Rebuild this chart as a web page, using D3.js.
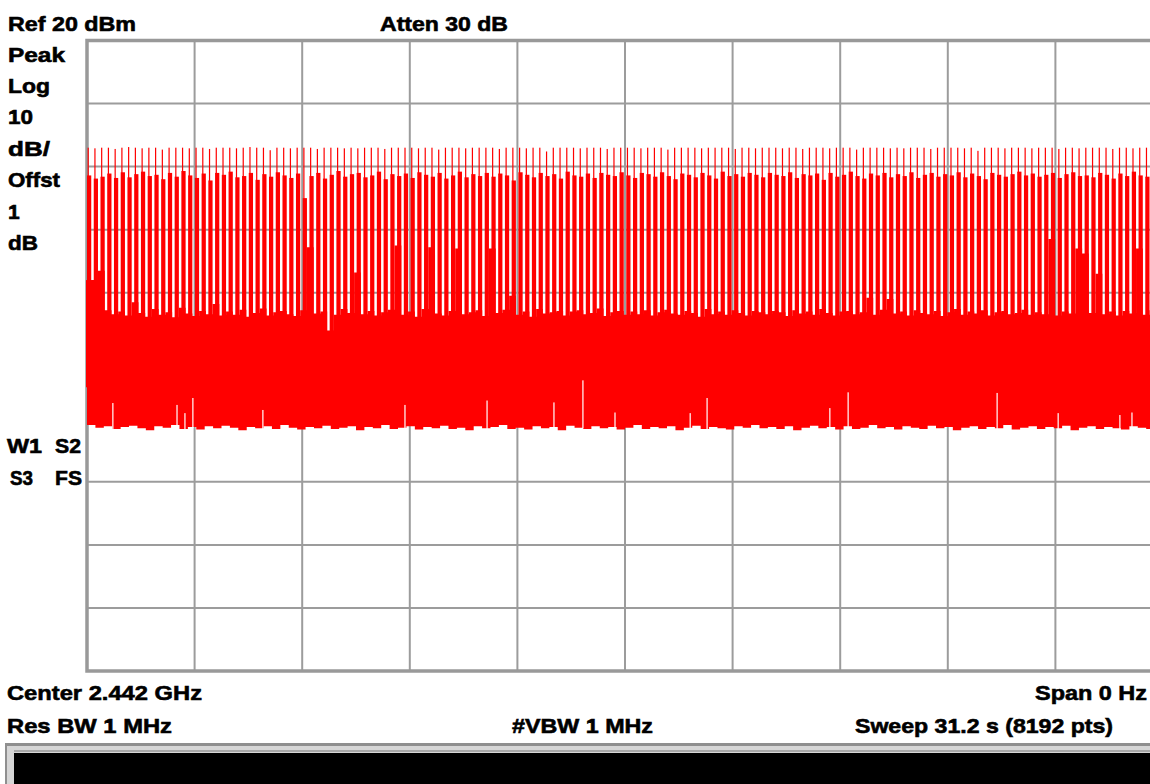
<!DOCTYPE html>
<html>
<head>
<meta charset="utf-8">
<title>Zero span sweep</title>
<script src="https://cdnjs.cloudflare.com/ajax/libs/d3/7.8.5/d3.min.js"></script>
<style>
  body { margin: 0; background: #fff; overflow: hidden; }
  svg text {
    font-family: "Liberation Sans", Arial, sans-serif;
    font-weight: bold;
    font-size: 21px;
    fill: #000;
    stroke: #000;
    stroke-width: 0.6px;
  }
</style>
</head>
<body>
<script>
// analyzer settings
var sweepTime = 31.2;          // s, zero span
var refLevel = 20, dbPerDiv = 10, divs = 10;

// text on the screen
var topLabels = ["Ref 20 dBm", "Atten 30 dB"];
var sideLabels = ["Peak", "Log", "10", "dB/", "Offst", "1", "dB"];
var flagLabels = [["W1", "S2"], ["S3", "FS"]];
var bottomLabels = ["Center 2.442 GHz", "Span 0 Hz", "Res BW 1 MHz", "#VBW 1 MHz", "Sweep 31.2 s (8192 pts)"];

// one entry per burst, left to right (dBm)
var spikeTop = [
  3.0, 2.9, 3.0, 3.0, 2.8, 3.0, 3.1, 3.0, 2.9, 3.0, 3.0, 2.7, 3.0, 3.0, 3.0, 2.9, 3.0, 3.0, 2.8, 3.0,
  3.0, 3.0, 2.9, 3.0, 3.1, 3.0, 3.0, 2.6, 3.0, 3.0, 2.9, 3.0, 3.0, 3.0, 2.8, 3.0, 3.0, 3.0, 2.9, 3.0,
  2.9, 3.0, 3.0, 3.0, 2.8, 3.0, 3.0, 3.0, 3.0, 2.9, 3.0, 3.0, 2.7, 3.0, 3.0, 3.0, 2.9, 3.0, 3.0, 3.0,
  3.0, 2.8, 3.0, 3.0, 3.0, 2.9, 3.0, 3.0, 2.4, 3.0, 3.0, 3.0, 3.0, 2.9, 3.0, 3.0, 3.0, 2.8, 3.0, 3.0,
  3.0, 3.0, 2.9, 3.0, 3.0, 3.0, 2.7, 3.0, 3.0, 3.0, 3.0, 2.9, 3.0, 3.0, 3.0, 3.0, 2.8, 3.0, 3.0, 2.9,
  3.0, 3.0, 3.0, 2.9, 3.0, 3.0, 2.8, 3.0, 3.0, 3.0, 2.9, 3.0, 3.0, 3.0, 2.7, 3.0, 3.0, 3.0, 3.0, 2.9,
  3.0, 2.9, 3.0, 3.0, 3.0, 2.8, 3.0, 3.0, 3.0, 3.0, 2.9, 3.0, 2.5, 3.0, 3.0, 3.0, 2.9, 3.0, 3.0, 3.0,
  2.9, 3.0, 3.0, 3.0, 2.8, 3.0, 3.0, 2.9, 3.0, 3.0, 3.0, 3.0, 2.8, 3.0, 3.0, 2.9, 3.0, 3.0, 3.0, 3.0
];
var blockTop = [
  -1.4, -1.9, -1.6, -1.1, -1.8, -0.9, -1.7, -1.2, -0.8, -1.5, -1.3, -2.0, -1.0, -1.6, -0.7, -1.4, -1.8, -1.1, -2.2, -1.0,
  -1.3, -0.8, -1.7, -1.5, -1.0, -2.1, -1.2, -1.6, -0.9, -1.4, -1.8, -1.1, -5.0, -1.5, -1.0, -1.9, -1.3, -0.7, -1.6, -1.2,
  -1.0, -1.7, -1.4, -0.8, -2.0, -1.2, -1.5, -1.1, -1.8, -0.9, -1.3, -1.6, -1.0, -1.9, -1.4, -0.8, -1.7, -1.2, -1.5, -1.0,
  -1.6, -1.1, -1.4, -2.2, -0.9, -1.3, -1.7, -1.0, -1.5, -1.2, -1.9, -0.8, -1.4, -1.6, -1.1, -1.8, -1.0, -1.3, -1.5, -0.9,
  -1.4, -1.8, -1.0, -1.2, -1.6, -0.9, -1.5, -2.0, -1.1, -1.3, -1.7, -1.0, -1.4, -1.9, -0.8, -1.5, -1.2, -1.6, -1.0, -1.3,
  -1.7, -1.0, -1.3, -1.5, -0.9, -1.8, -1.2, -1.4, -1.1, -2.1, -1.0, -1.6, -1.3, -0.8, -1.5, -1.9, -1.1, -1.4, -1.0, -1.7,
  -1.2, -1.5, -0.9, -1.8, -1.3, -1.0, -1.6, -1.2, -1.4, -0.9, -1.7, -1.1, -1.5, -2.0, -1.0, -1.3, -1.6, -1.2, -0.8, -1.4,
  -1.1, -1.6, -1.3, -1.0, -1.8, -1.2, -0.9, -1.5, -1.4, -1.7, -1.0, -1.3, -1.9, -1.1, -1.5, -0.8, -1.4, -1.6, -1.2, -1.0
];
// where the white gap after each burst ends (dBm)
var gapBottom = [
  -18.0, -16.5, -22.8, -23.4, -23.0, -23.6, -21.5, -23.2, -23.8, -22.6, -23.5, -23.1, -23.9, -22.4, -23.3, -23.7, -22.9, -23.4, -21.8, -23.6,
  -23.0, -23.5, -22.7, -23.8, -23.2, -22.5, -23.6, -23.1, -22.9, -23.4, -23.7, -22.8, -12.8, -23.3, -23.0, -26.0, -23.5, -22.6, -23.2, -16.8,
  -23.4, -22.9, -23.6, -23.1, -22.7, -12.5, -23.5, -23.0, -23.8, -22.6, -12.8, -23.3, -23.6, -22.9, -13.0, -23.4, -23.1, -22.8, -23.7, -13.0,
  -23.2, -22.7, -20.5, -23.5, -23.0, -23.8, -22.6, -23.3, -23.1, -22.9, -23.6, -23.0, -22.8, -23.4, -23.2, -22.5, -23.7, -23.1, -22.9, -23.5,
  -23.0, -23.4, -22.8, -23.6, -23.1, -22.7, -23.3, -23.5, -22.9, -23.2, -23.8, -22.6, -23.4, -23.0, -23.5, -22.8, -23.2, -23.6, -22.9, -23.1,
  -23.4, -22.9, -23.1, -23.7, -22.8, -23.3, -23.0, -23.5, -22.6, -23.2, -23.6, -23.0, -22.9, -23.4, -23.1, -20.8, -23.5, -22.7, -21.0, -23.3,
  -23.0, -23.6, -22.8, -23.2, -23.4, -22.9, -23.7, -23.1, -22.6, -23.5, -23.0, -23.3, -22.8, -23.6, -23.1, -22.9, -23.4, -23.2, -22.7, -23.5,
  -23.1, -23.4, -11.5, -23.6, -23.0, -23.3, -13.0, -13.8, -23.2, -17.0, -23.4, -23.0, -23.6, -22.9, -23.3, -13.0, -23.5, -22.8, -23.2, -23.0
];

// lower edge of the noise band, steps across the sweep (dBm)
var noiseFloor = [
  -41.0, -41.4, -41.2, -41.6, -41.3, -41.1, -41.5, -41.8, -41.2, -41.4,
  -41.0, -41.6, -41.3, -41.7, -41.2, -41.5, -41.1, -41.4, -41.8, -41.3,
  -41.5, -41.2, -41.6, -41.0, -41.4, -41.7, -41.3, -41.5, -41.1, -41.6,
  -41.4, -41.2, -41.8, -41.3, -41.5, -41.0, -41.6, -41.4, -41.2, -41.7,
  -41.3, -41.5, -41.1, -41.6, -41.4, -41.8, -41.2, -41.5, -41.3, -41.0,
  -41.6, -41.4, -41.7, -41.2, -41.5, -41.3, -41.8, -41.1, -41.4, -41.6,
  -41.2, -41.5, -41.3, -41.7, -41.4, -41.0, -41.6, -41.3, -41.5, -41.2,
  -41.8, -41.4, -41.1, -41.6, -41.3, -41.5, -41.7, -41.2, -41.4, -41.0,
  -41.5, -41.3, -41.6, -41.2, -41.8, -41.4, -41.1, -41.5, -41.3, -41.7,
  -41.2, -41.6, -41.4, -41.0, -41.5, -41.3, -41.7, -41.2, -41.4, -41.6,
  -41.1, -41.5, -41.3, -41.8, -41.4, -41.2, -41.6, -41.3, -41.5, -41.0,
  -41.7, -41.4, -41.2, -41.6, -41.3, -41.5, -41.1, -41.8, -41.4, -41.2,
  -41.6, -41.3, -41.5, -41.7, -41.2, -41.4, -41.6, -41.3
];

// narrow notches rising from the noise floor
var dipTimes  = [0.75, 2.61, 2.84, 3.07, 5.10, 9.22, 11.60, 13.54, 14.38, 15.31, 17.49, 17.98, 21.54, 22.07, 26.39, 28.16, 29.95, 30.30];
var dipLevels = [-37.5, -37.8, -39.1, -36.7, -38.6, -37.8, -37.1, -37.4, -33.9, -39.0, -39.1, -36.7, -38.3, -35.8, -35.9, -39.1, -39.4, -39.0];

var W = 1150, H = 784;
var plotX = 87, plotY = 40.5, pw = 1076, ph = 630.5;

var svg = d3.select("body").append("svg")
  .attr("width", W)
  .attr("height", H);

var x = d3.scaleLinear().domain([0, sweepTime]).range([plotX, plotX + pw]);
var y = d3.scaleLinear().domain([refLevel - dbPerDiv * divs, refLevel]).range([plotY + ph, plotY]);
var band = d3.scaleBand()
  .domain(d3.range(spikeTop.length))
  .range([plotX, plotX + pw])
  .paddingInner(0.37)
  .paddingOuter(0)
  .align(0);
var floorX = d3.scaleLinear().domain([0, noiseFloor.length]).range([plotX, plotX + pw]);

// graticule (under the trace)
var grid = svg.append("g").attr("stroke", "#9c9c9c").attr("stroke-width", 2);
d3.range(1, divs).forEach(function(k) {
  var gx = x(k * sweepTime / divs);
  grid.append("line").attr("x1", gx).attr("x2", gx).attr("y1", plotY).attr("y2", plotY + ph);
  var gy = y(refLevel - k * dbPerDiv);
  grid.append("line").attr("x1", plotX).attr("x2", plotX + pw).attr("y1", gy).attr("y2", gy);
});
svg.append("rect")
  .attr("x", plotX).attr("y", plotY)
  .attr("width", pw).attr("height", ph)
  .attr("fill", "none")
  .attr("stroke", "#999")
  .attr("stroke-width", 3.5);

svg.append("clipPath").attr("id", "plot")
  .append("rect").attr("x", plotX - 1).attr("y", plotY).attr("width", pw + 1).attr("height", ph);

var trace = svg.append("g").attr("clip-path", "url(#plot)").attr("fill", "#ff0000");
var step = band.step(), bw = band.bandwidth();

// upper part of the noise band: top edge follows the gap bottoms
var gapPts = gapBottom.concat([gapBottom[gapBottom.length - 1]]);
trace.append("path")
  .attr("d", d3.area()
    .curve(d3.curveStepAfter)
    .x(function(d, i) { return i < gapBottom.length ? band(i) + bw : plotX + pw; })
    .y0(y(-35))
    .y1(function(d) { return y(d); })(gapPts));
trace.append("rect")
  .attr("x", plotX - 1).attr("width", bw + 2)
  .attr("y", y(gapBottom[0])).attr("height", y(-35) - y(gapBottom[0]));

// lower part: bottom edge follows the noise floor
var floorPts = noiseFloor.concat([noiseFloor[noiseFloor.length - 1]]);
trace.append("path")
  .attr("d", d3.area()
    .curve(d3.curveStepAfter)
    .x(function(d, i) { return floorX(i); })
    .y0(function(d) { return y(d); })
    .y1(y(-34))(floorPts));

// bursts
trace.selectAll("rect.block").data(blockTop).join("rect")
  .attr("class", "block")
  .attr("x", function(d, i) { return band(i); })
  .attr("width", bw)
  .attr("y", function(d) { return y(d); })
  .attr("height", function(d) { return y(-28) - y(d); });

trace.selectAll("rect.spike").data(spikeTop).join("rect")
  .attr("class", "spike")
  .attr("x", function(d, i) { return band(i) + 0.6; })
  .attr("width", 1.2)
  .attr("y", function(d) { return y(d); })
  .attr("height", function(d, i) { return y(blockTop[i]) - y(d) + 1; });

// notches in the floor
trace.selectAll("rect.dip").data(dipLevels).join("rect")
  .attr("class", "dip")
  .attr("fill", "#fff")
  .attr("x", function(d, i) { return x(dipTimes[i]) - 0.6; })
  .attr("width", 1.2)
  .attr("y", function(d) { return y(d); })
  .attr("height", function(d, i) {
    var f = noiseFloor[Math.min(noiseFloor.length - 1, Math.floor(dipTimes[i] / sweepTime * noiseFloor.length))];
    return y(f) - y(d) + 1;
  });

// annotation text
function label(t, tx, ty, len, anchor) {
  var el = svg.append("text").attr("x", tx).attr("y", ty).text(t);
  if (anchor) el.attr("text-anchor", anchor);
  if (len) el.attr("textLength", len).attr("lengthAdjust", "spacingAndGlyphs");
  return el;
}

label(topLabels[0], 8, 31, 128);
label(topLabels[1], 380, 31, 128);

var sideWidths = [57, 42, 25, 42, 52, 0, 30];
sideLabels.forEach(function(t, i) {
  label(t, 8, 61.5 + i * 31.4, sideWidths[i] || null);
});

label(flagLabels[0][0], 7, 453, 35);
label(flagLabels[0][1], 55, 453, 26);
label(flagLabels[1][0], 10, 485, 23);
label(flagLabels[1][1], 55, 485, 27);

label(bottomLabels[0], 7, 700, 195);
label(bottomLabels[1], 1147, 700, 112, "end");
label(bottomLabels[2], 7, 733, 165);
label(bottomLabels[3], 512, 733, 141);
label(bottomLabels[4], 855, 733, 258);

// status bar at the bottom
svg.append("rect").attr("x", 5).attr("y", 743).attr("width", W).attr("height", 50).attr("fill", "#d6d6d6");
svg.append("rect").attr("x", 5).attr("y", 743).attr("width", W).attr("height", 3).attr("fill", "#8f8f8f");
svg.append("rect").attr("x", 5).attr("y", 743).attr("width", 2).attr("height", 50).attr("fill", "#8f8f8f");
svg.append("rect").attr("x", 14).attr("y", 750).attr("width", W).attr("height", 2).attr("fill", "#a8a8a8");
svg.append("rect").attr("x", 14).attr("y", 753).attr("width", W).attr("height", 40).attr("fill", "#000");
</script>
</body>
</html>
